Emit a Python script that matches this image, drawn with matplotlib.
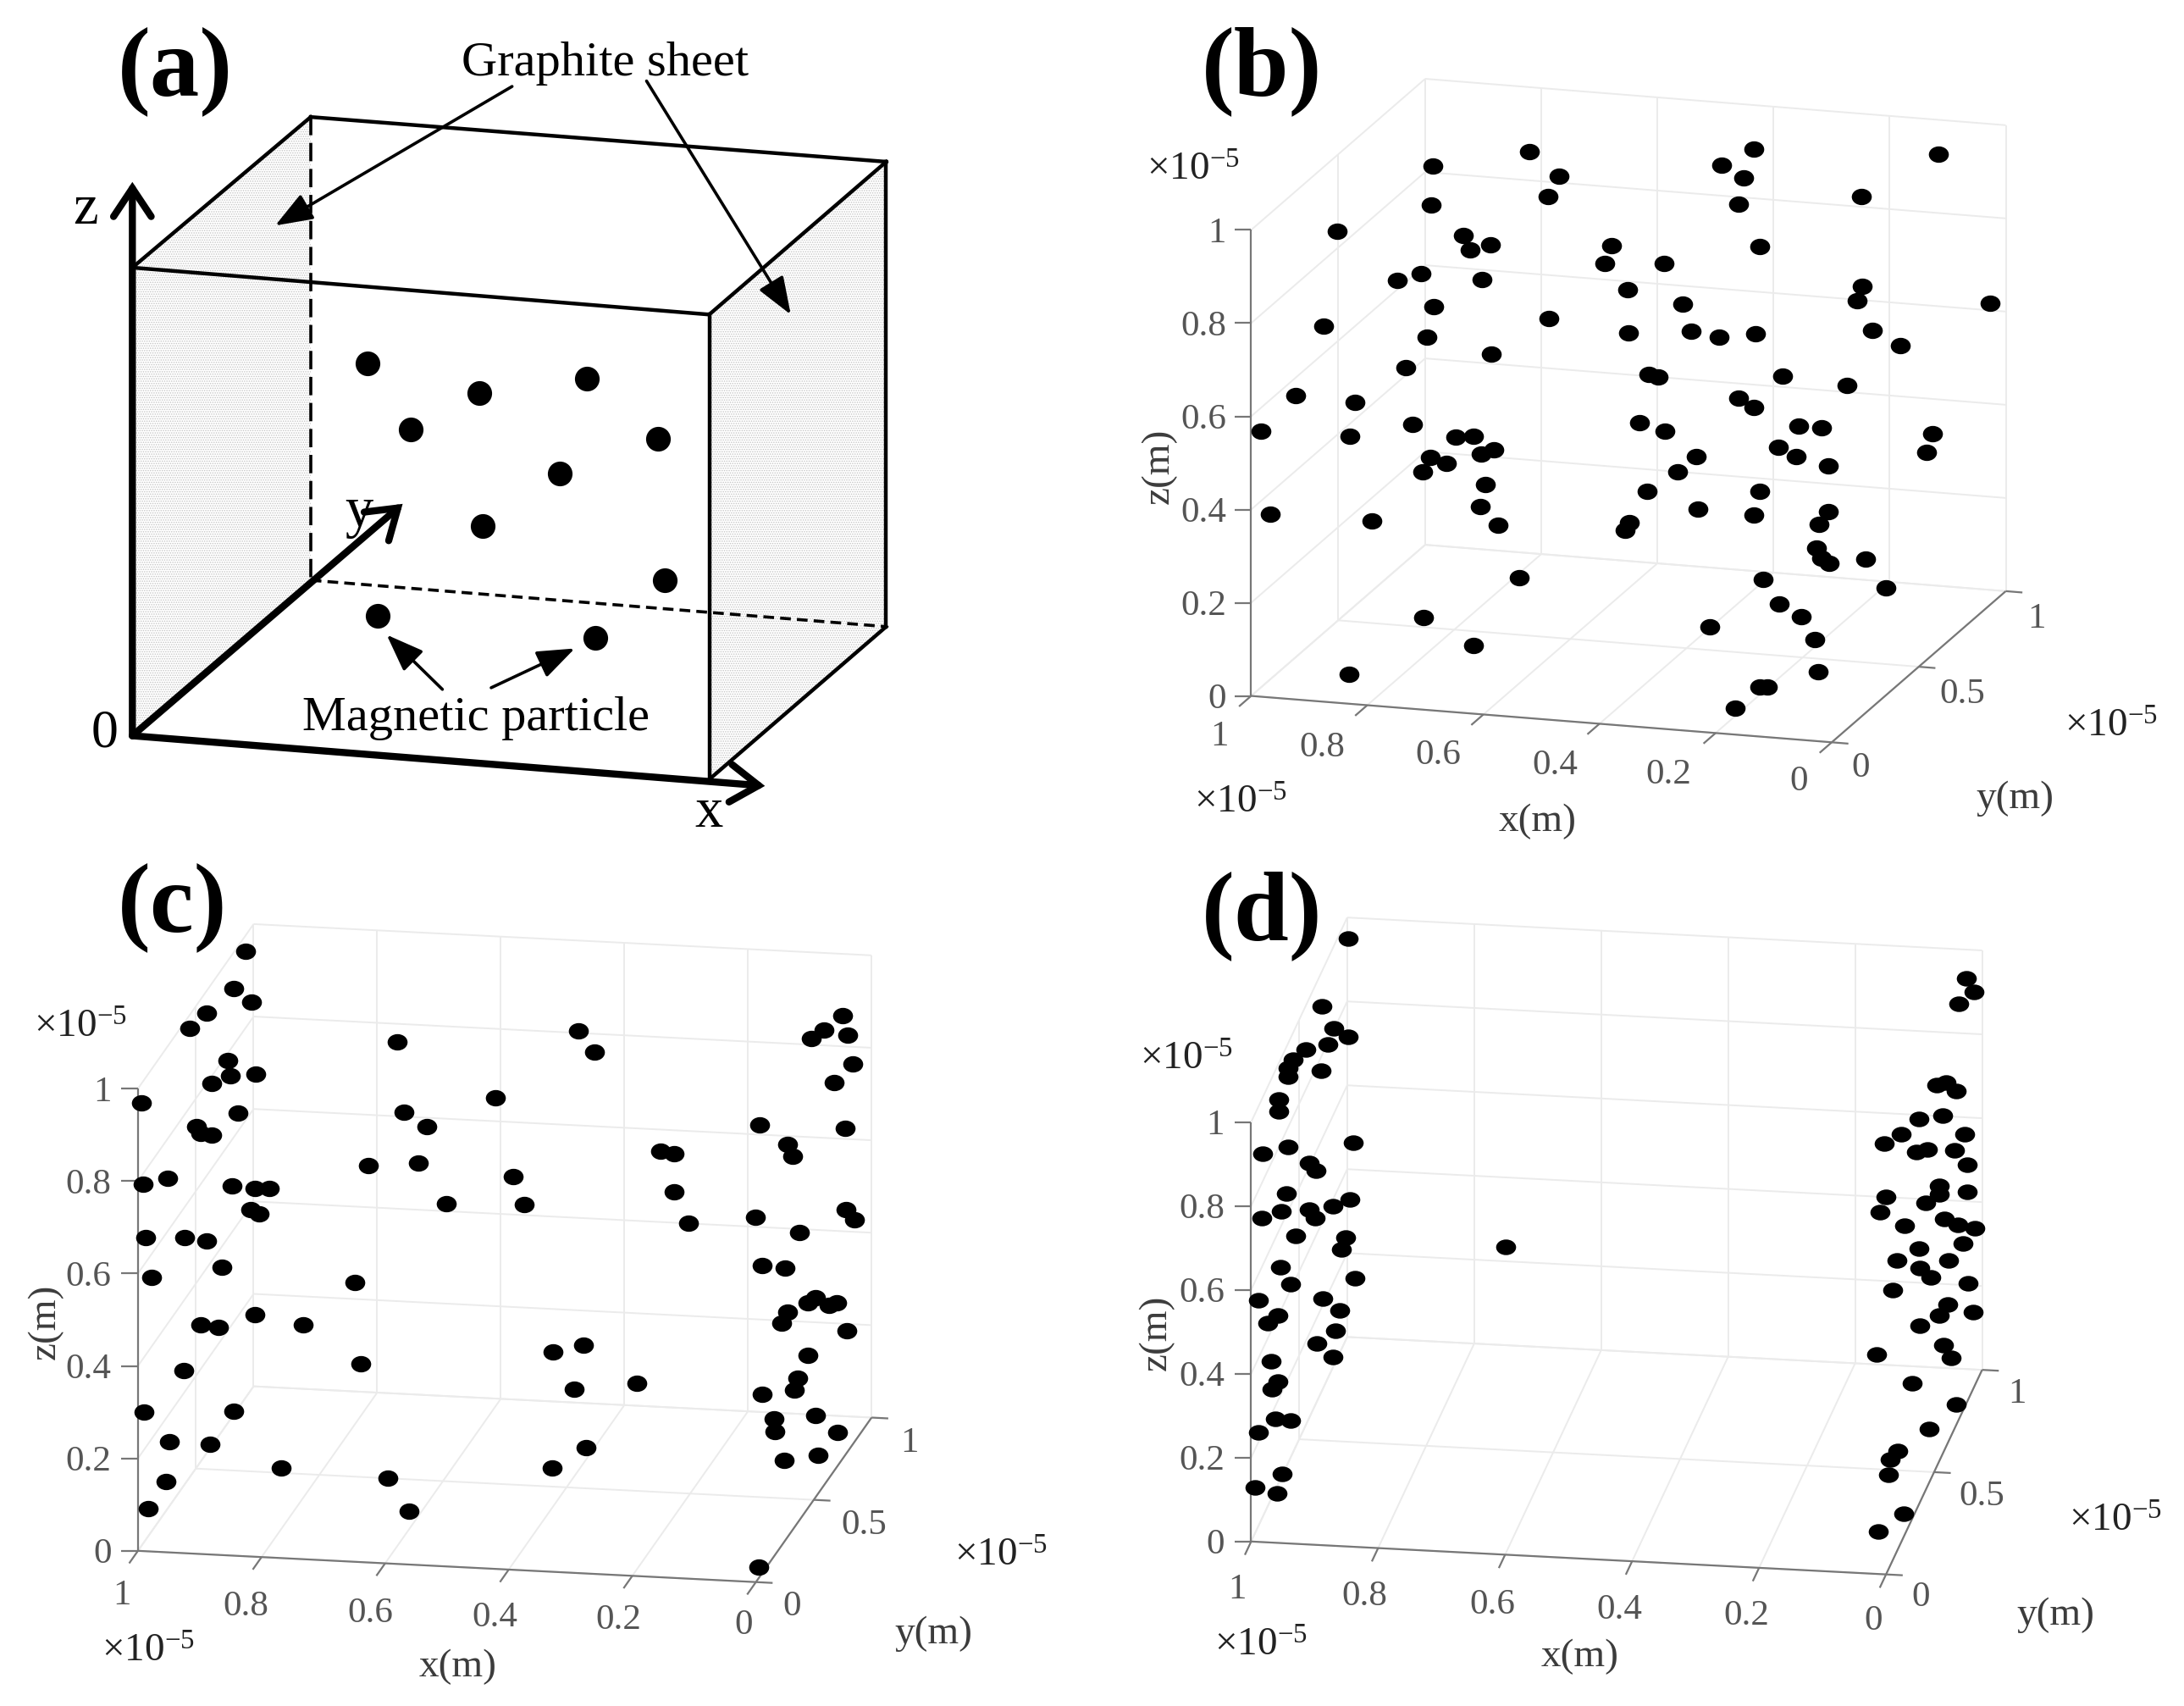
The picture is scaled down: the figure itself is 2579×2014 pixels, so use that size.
import matplotlib

matplotlib.use("Agg")
import matplotlib.pyplot as plt
from matplotlib.path import Path
from matplotlib.patches import Polygon
from matplotlib.transforms import Affine2D
import numpy as np

plt.rcParams["font.family"] = ["Liberation Serif", "DejaVu Serif"]
plt.rcParams["mathtext.fontset"] = "custom"
plt.rcParams["mathtext.rm"] = "Liberation Serif"
plt.rcParams["mathtext.it"] = "Liberation Serif"
plt.rcParams["mathtext.default"] = "rm"
plt.rcParams["hatch.linewidth"] = 0.7

WIDTH, HEIGHT = 2579, 2015
CROP_SIZE = 1568  # every panel's positions were read on a crop shown 1568 by 1568

# particle positions
a_x = [528, 688, 842, 590, 944, 803, 693, 954, 542, 855]
a_y = [668, 722, 696, 789, 805, 870, 966, 1065, 1130, 1170]

b_pts = [(628, 279), (489, 306), (670, 325), (655, 362), (486, 378), (351, 425), (533, 433), (542, 460),
         (572, 450), (904, 304), (950, 275), (935, 327), (928, 375), (958, 454), (1105, 361), (1215, 284),
         (746, 451), (736, 484), (821, 485), (438, 515), (472, 503), (559, 514), (769, 533), (848, 559),
         (490, 564), (1106, 527), (1099, 553), (1289, 557), (332, 600), (481, 619), (656, 586), (770, 612),
         (860, 609), (900, 619), (953, 614), (1120, 607), (1161, 635), (573, 651), (450, 676), (799, 687),
         (813, 693), (992, 691), (1084, 708), (292, 726), (377, 739), (928, 731), (950, 748), (242, 792),
         (370, 801), (460, 779), (522, 802), (548, 801), (786, 776), (822, 791), (1015, 782), (1047, 785),
         (1207, 796), (1198, 830), (577, 826), (558, 834), (485, 840), (509, 851), (475, 866), (867, 838),
         (840, 866), (985, 821), (1011, 838), (1057, 855), (565, 890), (797, 902), (958, 902), (557, 930),
         (870, 934), (950, 945), (1057, 939), (256, 944), (401, 956), (583, 964), (771, 959), (765, 973),
         (1044, 963), (1040, 1006), (1047, 1024), (1058, 1034), (1111, 1026), (613, 1060), (963, 1063),
         (1140, 1079), (987, 1108), (1018, 1131), (476, 1133), (887, 1151), (1038, 1174), (548, 1184),
         (1042, 1232), (369, 1238), (958, 1260), (969, 1260), (923, 1299)]

c_pts = [(353, 191), (335, 260), (361, 284), (296, 305), (272, 332), (327, 391), (367, 415), (331, 419),
         (304, 433), (203, 468), (342, 487), (282, 511), (288, 523), (304, 527), (570, 357), (830, 336),
         (853, 376), (711, 459), (580, 485), (613, 511), (1209, 309), (1183, 335), (1165, 350), (1217, 345),
         (1224, 397), (1197, 431), (1090, 508), (1213, 514), (1131, 544), (1138, 565), (948, 556), (967, 561),
         (529, 583), (601, 577), (737, 602), (241, 606), (205, 616), (333, 620), (366, 624), (387, 624),
         (967, 630), (641, 652), (752, 653), (360, 662), (372, 670), (1214, 663), (1227, 682), (1084, 676),
         (988, 688), (1148, 704), (209, 714), (265, 713), (296, 720), (318, 768), (1094, 765), (1127, 770),
         (218, 786), (509, 796), (1170, 824), (1160, 832), (1201, 832), (1190, 838), (1130, 850), (1122, 870),
         (366, 855), (288, 873), (314, 877), (435, 873), (1215, 883), (794, 923), (838, 910), (1160, 928),
         (264, 957), (518, 944), (1145, 970), (1140, 992), (914, 979), (824, 990), (1094, 999), (207, 1032),
         (335, 1030), (1170, 1038), (1111, 1045), (1112, 1067), (1202, 1069), (243, 1086), (301, 1090),
         (841, 1097), (1174, 1110), (1125, 1120), (404, 1134), (793, 1134), (238, 1159), (557, 1153),
         (213, 1208), (587, 1213), (1089, 1315)]

d_pts = [(367, 169), (1255, 241), (1266, 265), (1245, 287), (330, 292), (347, 332), (367, 347), (338, 361),
         (307, 370), (288, 390), (281, 405), (281, 420), (328, 409), (1213, 435), (1226, 431), (1241, 447),
         (268, 462), (268, 484), (1187, 497), (1221, 491), (1162, 525), (1253, 526), (375, 541), (1137, 542),
         (281, 548), (245, 560), (1183, 558), (1199, 553), (1238, 555), (311, 578), (321, 591), (1256, 581),
         (1217, 620), (1216, 635), (1257, 630), (278, 633), (1140, 640), (1197, 651), (370, 644), (345, 656),
         (1131, 668), (271, 666), (311, 662), (320, 678), (243, 678), (1224, 680), (1243, 690), (1167, 692),
         (1268, 697), (292, 711), (364, 714), (358, 736), (1187, 734), (1251, 725), (594, 730), (1156, 755),
         (1230, 755), (270, 768), (1188, 769), (1204, 787), (377, 788), (285, 799), (1258, 797), (1150, 810),
         (331, 825), (238, 828), (1229, 835), (1216, 856), (1265, 849), (355, 847), (267, 856), (252, 870),
         (1188, 875), (349, 884), (322, 907), (1222, 910), (345, 931), (1234, 933), (1126, 927), (257, 939),
         (267, 977), (258, 990), (1177, 979), (1241, 1018), (263, 1045), (285, 1048), (238, 1069), (1202, 1063),
         (1157, 1103), (1146, 1119), (273, 1145), (1143, 1147), (233, 1170), (265, 1181), (1165, 1217),
         (1129, 1250)]

x_ticks = [1, 0.8, 0.6, 0.4, 0.2, 0]
y_ticks = [0, 0.5, 1]
z_ticks = [0, 0.2, 0.4, 0.6, 0.8, 1]
x_tick_labels = ["1", "0.8", "0.6", "0.4", "0.2", "0"]
y_tick_labels = ["0", "0.5", "1"]
z_tick_labels = ["0", "0.2", "0.4", "0.6", "0.8", "1"]

EXPONENT = r"×10$^{\mathregular{-5}}$"
TICK_COLOR = "#555555"
AXIS_COLOR = "#777777"
GRID_COLOR = "#ebebeb"


def panel_axes(fig, left, top, width, height):
    ax = fig.add_axes([left / WIDTH, 1 - (top + height) / HEIGHT, width / WIDTH, height / HEIGHT])
    ax.set_xlim(0, CROP_SIZE)
    ax.set_ylim(CROP_SIZE, 0)
    ax.axis("off")
    ax.patch.set_alpha(0)
    return ax


def draw_3d_panel(ax, points, geom, marker_size, squash):
    origin, ex, ey, ez = [np.array(v, dtype=float) for v in geom["frame"]]

    def proj(x, y, z):
        return origin + (1 - x) * ex + y * ey + z * ez

    def seg(p, q, **kw):
        ax.plot([p[0], q[0]], [p[1], q[1]], solid_capstyle="butt", **kw)

    grid = dict(color=GRID_COLOR, lw=1.4, zorder=1)
    for x in x_ticks:
        seg(proj(x, 0, 0), proj(x, 1, 0), **grid)
        seg(proj(x, 1, 0), proj(x, 1, 1), **grid)
    for y in y_ticks:
        seg(proj(1, y, 0), proj(0, y, 0), **grid)
        seg(proj(1, y, 0), proj(1, y, 1), **grid)
    for z in z_ticks:
        seg(proj(1, 0, z), proj(1, 1, z), **grid)
        seg(proj(1, 1, z), proj(0, 1, z), **grid)

    # axis lines and ticks
    axis = dict(color=AXIS_COLOR, lw=1.6, zorder=2)
    seg(proj(1, 0, 0), proj(0, 0, 0), **axis)
    seg(proj(0, 0, 0), proj(0, 1, 0), **axis)
    seg(proj(1, 0, 0), proj(1, 0, 1), **axis)
    ey_dir = ey / np.linalg.norm(ey)
    ex_dir = ex / np.linalg.norm(ex)
    for x in x_ticks:
        p = proj(x, 0, 0)
        seg(p, p - 26 * ey_dir, **axis)
    for y in y_ticks:
        p = proj(0, y, 0)
        seg(p, p + 24 * ex_dir, **axis)
    for z in z_ticks:
        p = proj(1, 0, z)
        seg(p, p - np.array([24, 0]), **axis)

    # particles
    marker = Path.unit_circle().transformed(Affine2D().scale(1, squash))
    pts = np.array(points)
    ax.plot(pts[:, 0], pts[:, 1], ls="none", marker=marker, ms=marker_size,
            mfc="black", mec="none", zorder=3)

    # tick labels
    tick_font = dict(fontsize=31, color=TICK_COLOR, ha="center", va="center")
    for label, pos in zip(x_tick_labels, geom["x_labels"]):
        ax.text(pos[0], pos[1], label, **tick_font)
    for label, pos in zip(y_tick_labels, geom["y_labels"]):
        ax.text(pos[0], pos[1], label, **tick_font)
    for label, z in zip(z_tick_labels, z_ticks):
        p = proj(1, 0, z)
        ax.text(geom["z_right"], p[1] + 5, label, fontsize=31, color=TICK_COLOR, ha="right", va="center")

    label_font = dict(fontsize=34, color="#3c3c3c", ha="center", va="center")
    ax.text(*geom["xlabel"], "x(m)", **label_font)
    ax.text(*geom["ylabel"], "y(m)", **label_font)
    ax.text(*geom["zlabel"], "z(m)", rotation=90, **label_font)
    for pos in geom["exponents"]:
        ax.text(pos[0], pos[1], EXPONENT, fontsize=34, color="#222222", ha="center", va="center")
    ax.text(*geom["tag"], geom["tag_text"], fontsize=84, fontweight="bold", ha="center", va="center")


geom_b = dict(
    frame=[(228, 1277), (834, 85), (250, -277), (0, -854)],
    x_labels=[(183, 1350), (330, 1370), (497, 1385), (665, 1403), (828, 1420), (1015, 1432)],
    y_labels=[(1104, 1408), (1250, 1272), (1356, 1135)],
    z_right=192, xlabel=(640, 1505), ylabel=(1325, 1463), zlabel=(95, 855),
    exponents=[(145, 313), (213, 1473), (1463, 1333)], tag=(243, 130), tag_text="(b)",
)
geom_c = dict(
    frame=[(198, 1285), (887, 57), (166, -300), (0, -843)],
    x_labels=[(175, 1365), (353, 1385), (532, 1397), (710, 1405), (888, 1410), (1067, 1420)],
    y_labels=[(1137, 1385), (1240, 1237), (1305, 1087)],
    z_right=160, xlabel=(657, 1495), ylabel=(1340, 1435), zlabel=(65, 865),
    exponents=[(115, 330), (213, 1468), (1437, 1293)], tag=(247, 110), tag_text="(c)",
)
geom_d = dict(
    frame=[(228, 1268), (912, 60), (138, -373), (0, -765)],
    x_labels=[(208, 1355), (391, 1367), (575, 1382), (757, 1392), (939, 1402), (1122, 1412)],
    y_labels=[(1190, 1368), (1277, 1185), (1328, 998)],
    z_right=190, xlabel=(700, 1477), ylabel=(1383, 1400), zlabel=(92, 885),
    exponents=[(135, 388), (242, 1458), (1470, 1230)], tag=(243, 125), tag_text="(d)",
)


def draw_panel_a(ax):
    ftl, ftr, fbr, fbl = (190, 492), (1018, 578), (1018, 1430), (190, 1350)
    btl, btr, bbr, bbl = (446, 216), (1272, 298), (1272, 1150), (446, 1065)

    for corners in ([ftl, btl, bbl, fbl], [ftr, btr, bbr, fbr]):
        ax.add_patch(Polygon(corners, closed=True, facecolor="white", edgecolor="#c4c4c4",
                             hatch="......", lw=0, zorder=1))

    def line(p, q, **kw):
        ax.plot([p[0], q[0]], [p[1], q[1]], color="black", zorder=2, **kw)

    for p, q in [(ftl, ftr), (ftr, fbr), (ftl, btl), (btl, btr), (btr, ftr), (btr, bbr), (fbr, bbr)]:
        line(p, q, lw=3.2)
    line(btl, bbl, lw=2.6, ls=(0, (6, 2.5)))
    line(bbl, bbr, lw=2.6, ls=(0, (3.5, 2)))

    # thick coordinate axes with open heads
    open_head = dict(arrowstyle="->,head_length=0.75,head_width=0.5", color="black", lw=6,
                     mutation_scale=32, shrinkA=0, shrinkB=0, joinstyle="miter", capstyle="round")
    for tip in [(190, 335), (1098, 1442), (578, 925)]:
        ax.annotate("", xy=tip, xytext=fbl, arrowprops=open_head, zorder=3)

    ax.plot(a_x, a_y, ls="none", marker="o", ms=21, mfc="black", mec="none", zorder=4)

    solid_head = dict(arrowstyle="-|>,head_length=0.85,head_width=0.32", color="black", lw=2.6,
                      mutation_scale=32, shrinkA=0, shrinkB=0)
    for tail, tip in [((735, 160), (395, 415)), ((928, 150), (1135, 578)),
                      ((635, 1265), (555, 1165)), ((705, 1262), (825, 1190))]:
        ax.annotate("", xy=tip, xytext=tail, arrowprops=solid_head, zorder=4)

    ax.text(868, 116, "Graphite sheet", fontsize=42, ha="center", va="center")
    ax.text(683, 1316, "Magnetic particle", fontsize=42, ha="center", va="center")
    ax.text(123, 385, "z", fontsize=48, ha="center", va="center")
    ax.text(1018, 1490, "x", fontsize=48, ha="center", va="center")
    ax.text(515, 940, "y", fontsize=48, ha="center", va="center")
    ax.text(150, 1345, "0", fontsize=46, ha="center", va="center")
    ax.text(252, 130, "(a)", fontsize=84, fontweight="bold", ha="center", va="center")


fig = plt.figure(figsize=(WIDTH / 100, HEIGHT / 100), dpi=100)
draw_panel_a(panel_axes(fig, 0, 0, 1290, 1010))
draw_3d_panel(panel_axes(fig, 1290, 0, 1289, 1010), b_pts, geom_b, 17, 0.82)
draw_3d_panel(panel_axes(fig, 0, 1000, 1290, 1015), c_pts, geom_c, 17, 0.82)
draw_3d_panel(panel_axes(fig, 1290, 1000, 1289, 1015), d_pts, geom_d, 17, 0.78)
fig.savefig("out.png", dpi=100)
plt.close(fig)
